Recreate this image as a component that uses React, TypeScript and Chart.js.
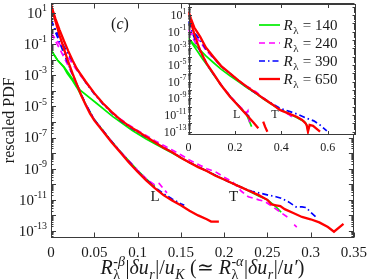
import { useEffect, useRef } from "react";
import { Chart, registerables } from "chart.js";

Chart.register(...registerables);

const SERIF = '"Liberation Serif", "Times New Roman", Times, serif';
const AXIS = "#3a3a3a";
const TEXT = "#1a1a1a";

// Series styling per Reynolds number
const reLabels = ["140", "240", "390", "650"];
const reColors = ["#00ee00", "#ff00ff", "#0000ff", "#ff0000"];
const reDashes: number[][] = [[], [6, 4], [6, 3, 1.5, 3], []];
const reWidths = [1.7, 1.7, 1.7, 2.3];

// Main axes
const mainXMin = 0;
const mainXMax = 0.35;
const mainXStep = 0.05;
const mainLogMin = -13.42;
const mainLogMax = 1.64;
const mainYLabelExps = [1, -1, -3, -5, -7, -9, -11, -13];

// Inset axes
const insetXMin = 0;
const insetXMax = 0.722;
const insetXStep = 0.2;
const insetLogMin = -13.34;
const insetLogMax = 2.32;
const insetYLabelExps = [1, -1, -3, -5, -7, -9, -11, -13];

type Pt = [number, number] | null; // [x, log10(PDF)]

// ---- Main plot: longitudinal (L) curves ----
const mainL140: Pt[] = [[0, -1.38], [0.0074, -2.02], [0.015, -2.5], [0.0187, -2.87], [0.025, -3.35], [0.03, -3.8], [0.035, -4.3], [0.04, -4.85], [0.05, -5.85], [0.06, -6.55], [0.07, -7.25], [0.08, -7.9], [0.09, -8.5], [0.1, -9.1], [0.11, -9.65], [0.12, -10.15]];
const mainL240: Pt[] = [[0, -0.3], [0.005, -0.8], [0.01, -1.3], [0.015, -1.85], [0.02, -2.4], [0.025, -3.0], [0.03, -3.6], [0.035, -4.25], [0.04, -4.85], [0.05, -5.85], [0.06, -6.55], [0.07, -7.25], [0.08, -7.9], [0.09, -8.5], [0.1, -9.1], [0.11, -9.65], [0.12, -10.05], [0.125, -9.95], [0.13, -10.3], [0.134, -10.55]];
const mainL390: Pt[] = [[0, 0.55], [0.005, -0.2], [0.01, -0.9], [0.015, -1.6], [0.02, -2.3], [0.025, -2.95], [0.03, -3.6], [0.035, -4.25], [0.04, -4.85], [0.05, -5.85], [0.06, -6.55], [0.07, -7.25], [0.08, -7.9], [0.09, -8.55], [0.1, -9.15], [0.11, -9.7], [0.12, -10.2], [0.13, -10.6], [0.14, -10.95], [0.15, -11.25], [0.154, -11.35]];
const mainL650: Pt[] = [[0, 1.5], [0.005, 0.5], [0.01, -0.45], [0.015, -1.3], [0.02, -2.15], [0.025, -2.9], [0.03, -3.6], [0.035, -4.3], [0.04, -4.9], [0.045, -5.45], [0.05, -5.9], [0.055, -6.25], [0.06, -6.6], [0.07, -7.3], [0.08, -7.95], [0.09, -8.6], [0.1, -9.2], [0.11, -9.75], [0.12, -10.25], [0.13, -10.7], [0.14, -11.05], [0.15, -11.35], [0.16, -11.7], [0.17, -12.0], [0.18, -12.25], [0.185, -12.4], [0.194, -12.4]];

// ---- Main plot: transverse (T) curves ----
const mainT140: Pt[] = [[0, -1.38], [0.0074, -2.02], [0.015, -2.45], [0.02, -2.85], [0.0337, -3.95], [0.0526, -4.8], [0.0715, -5.66], [0.094, -6.55], [0.11, -7.1], [0.12, -7.4], [0.14, -8.0], [0.16, -8.6], [0.18, -9.15], [0.2, -9.7], [0.22, -10.2], [0.24, -10.75], [0.25, -11.0], [0.26, -11.45], [0.266, -11.8]];
const mainT240: Pt[] = [[0, -0.3], [0.005, -0.65], [0.01, -1.0], [0.015, -1.4], [0.02, -1.85], [0.03, -2.7], [0.04, -3.45], [0.05, -4.15], [0.06, -4.8], [0.07, -5.35], [0.08, -5.8], [0.09, -6.2], [0.1, -6.55], [0.12, -7.2], [0.14, -7.8], [0.15, -8.1], [0.16, -8.45], [0.18, -9.0], [0.19, -9.2], [0.2, -9.55], [0.21, -9.85], [0.22, -10.45], [0.228, -10.8], [0.24, -11.0], [0.247, -11.1], [0.255, -11.4], [0.264, -11.75], [0.2755, -12.2], null, [0.281, -12.6], [0.284, -12.75]];
const mainT390: Pt[] = [[0, 0.55], [0.005, -0.05], [0.01, -0.6], [0.015, -1.15], [0.02, -1.65], [0.025, -2.1], [0.03, -2.6], [0.04, -3.45], [0.05, -4.2], [0.06, -4.85], [0.07, -5.4], [0.08, -5.9], [0.09, -6.3], [0.1, -6.65], [0.12, -7.3], [0.14, -7.95], [0.16, -8.6], [0.18, -9.15], [0.2, -9.7], [0.21, -9.95], [0.22, -10.2], [0.232, -10.45], [0.24, -10.55], [0.251, -10.7], [0.26, -10.8], [0.266, -10.9], [0.275, -11.15], [0.283, -11.45], [0.29, -11.45], [0.295, -11.5], [0.3, -11.8], [0.306, -12.1]];
const mainT650: Pt[] = [[0, 1.5], [0.005, 0.65], [0.01, -0.1], [0.015, -0.8], [0.02, -1.45], [0.025, -2.05], [0.03, -2.6], [0.04, -3.4], [0.05, -4.15], [0.06, -4.8], [0.07, -5.35], [0.08, -5.85], [0.09, -6.25], [0.1, -6.6], [0.11, -6.95], [0.12, -7.3], [0.13, -7.65], [0.14, -7.95], [0.15, -8.3], [0.16, -8.6], [0.17, -8.9], [0.18, -9.15], [0.19, -9.45], [0.2, -9.7], [0.21, -9.95], [0.22, -10.2], [0.23, -10.45], [0.24, -10.7], [0.25, -11.0], [0.255, -11.3], [0.26, -11.35], [0.265, -11.4], [0.27, -11.6], [0.28, -11.85], [0.29, -12.1], [0.3, -12.25], [0.31, -12.45], [0.32, -12.75], [0.327, -13.05], [0.338, -12.55]];

// ---- Inset: L curves ----
const insetL140: Pt[] = [[0, -1.8], [0.02, -2.6], [0.04, -3.4], [0.06, -4.25], [0.08, -5.0], [0.107, -6.1], [0.14, -7.4], [0.179, -8.75], [0.215, -9.9], [0.251, -11.0], [0.272, -12.4]];
const insetL240: Pt[] = [[0, -0.8], [0.01, -1.3], [0.02, -1.8], [0.03, -2.35], [0.04, -2.85], [0.05, -3.35], [0.065, -4.15], [0.08, -4.95], [0.107, -6.05], [0.14, -7.35], [0.179, -8.7], [0.215, -9.8], [0.25, -10.75], [0.256, -10.5], [0.26, -11.2], [0.265, -12.2]];
const insetL390: Pt[] = [[0, 0.2], [0.01, -0.6], [0.02, -1.35], [0.03, -2.05], [0.04, -2.7], [0.05, -3.3], [0.065, -4.15], [0.08, -4.95], [0.107, -6.05], [0.14, -7.4], [0.179, -8.75], [0.215, -9.85], [0.251, -10.9], [0.265, -11.3]];
const insetL650: Pt[] = [[0, 1.4], [0.01, 0.2], [0.02, -0.8], [0.03, -1.7], [0.04, -2.5], [0.05, -3.2], [0.065, -4.1], [0.08, -4.9], [0.107, -6.0], [0.14, -7.4], [0.179, -8.8], [0.215, -9.9], [0.251, -11.0], [0.28, -11.9], [0.301, -12.6], null, [0.322, -11.8], [0.33, -12.4], [0.34, -13.0]];

// ---- Inset: T curves ----
const insetT140: Pt[] = [[0, -1.8], [0.02, -2.4], [0.05, -3.2], [0.075, -3.9], [0.107, -4.7], [0.14, -5.5], [0.179, -6.3], [0.215, -7.0], [0.251, -7.7], [0.29, -8.4], [0.322, -9.05], [0.36, -9.75], [0.394, -10.35], [0.43, -10.8], [0.466, -11.3], [0.5, -11.8], [0.51, -12.2], [0.514, -12.8]];
const insetT240: Pt[] = [[0, -0.8], [0.02, -1.3], [0.05, -2.2], [0.075, -3.2], [0.107, -4.2], [0.14, -5.15], [0.179, -6.05], [0.215, -6.85], [0.251, -7.55], [0.29, -8.2], [0.322, -8.95], [0.36, -9.7], [0.394, -10.35], [0.43, -10.9], [0.46, -11.5]];
const insetT390: Pt[] = [[0, 0.2], [0.02, -0.9], [0.05, -2.0], [0.075, -3.1], [0.107, -4.1], [0.14, -5.15], [0.179, -6.05], [0.251, -7.65], [0.322, -9.0], [0.394, -10.2], [0.4375, -10.6], [0.47, -10.9], [0.51, -11.4], [0.54, -11.7], [0.567, -12.2], [0.596, -12.9]];
const insetT650: Pt[] = [[0, 1.4], [0.01, 0.6], [0.025, -0.5], [0.05, -1.6], [0.075, -2.9], [0.107, -4.0], [0.14, -5.1], [0.179, -6.0], [0.215, -6.85], [0.251, -7.6], [0.29, -8.35], [0.322, -9.0], [0.36, -9.7], [0.394, -10.4], [0.43, -10.8], [0.466, -11.2], [0.49, -11.6], [0.505, -12.0], [0.51, -12.3], [0.515, -13.0], [0.522, -12.2], [0.537, -12.3], [0.55, -12.6], [0.567, -13.0]];

const mainL = [mainL140, mainL240, mainL390, mainL650];
const mainT = [mainT140, mainT240, mainT390, mainT650];
const insetL = [insetL140, insetL240, insetL390, insetL650];
const insetT = [insetT140, insetT240, insetT390, insetT650];

// ---------- helpers ----------
type Seg = { t?: string; it?: boolean; sub?: string; sup?: string; subIt?: boolean; supIt?: boolean };

function drawRich(ctx: CanvasRenderingContext2D, segs: Seg[], x: number, y: number, size: number, align: "left" | "center" | "right" = "left") {
  const small = Math.round(size * 0.7);
  const f = (it: boolean, s: number) => `${it ? "italic " : ""}${s}px ${SERIF}`;
  const items = segs.map((s) => {
    ctx.font = f(!!s.it, size);
    const w = s.t ? ctx.measureText(s.t).width : 0;
    let w2 = 0;
    if (s.sub) { ctx.font = f(!!s.subIt, small); w2 = Math.max(w2, ctx.measureText(s.sub).width); }
    if (s.sup) { ctx.font = f(!!s.supIt, small); w2 = Math.max(w2, ctx.measureText(s.sup).width); }
    return { s, w, w2 };
  });
  const total = items.reduce((a, i) => a + i.w + i.w2 + (i.w2 ? 1 : 0), 0);
  let cx = align === "center" ? x - total / 2 : align === "right" ? x - total : x;
  ctx.textAlign = "left";
  ctx.textBaseline = "alphabetic";
  for (const { s, w, w2 } of items) {
    if (s.t) { ctx.font = f(!!s.it, size); ctx.fillText(s.t, cx, y); }
    cx += w;
    if (s.sub) { ctx.font = f(!!s.subIt, small); ctx.fillText(s.sub, cx + 0.5, y + size * 0.25); }
    if (s.sup) { ctx.font = f(!!s.supIt, small); ctx.fillText(s.sup, cx + 0.5, y - size * 0.42); }
    cx += w2 + (w2 ? 1 : 0);
  }
}

function toPoints(pts: Pt[]) {
  const out: { x: number; y: number | null }[] = [];
  let lastX = 0;
  for (const p of pts) {
    if (p === null) out.push({ x: lastX, y: null });
    else { lastX = p[0]; out.push({ x: p[0], y: Math.pow(10, p[1]) }); }
  }
  return out;
}

function makeDatasets(L: Pt[][], T: Pt[][]) {
  const ds: any[] = [];
  for (let i = reLabels.length - 1; i >= 0; i--) {
    const fams: [string, Pt[]][] = [["L", L[i]], ["T", T[i]]];
    for (const [fam, arr] of fams) {
      ds.push({
        label: `${fam} R=${reLabels[i]}`,
        data: toPoints(arr),
        borderColor: reColors[i],
        backgroundColor: reColors[i],
        borderWidth: reWidths[i],
        borderDash: reDashes[i],
        pointRadius: 0,
        fill: false,
        tension: 0,
        spanGaps: false,
      });
    }
  }
  return ds;
}

function drawLogTicks(ctx: CanvasRenderingContext2D, chart: any, logMin: number, logMax: number, major: number, minor: number, bothSides: boolean) {
  const ys = chart.scales.y;
  const ca = chart.chartArea;
  for (let e = Math.floor(logMin); e <= Math.ceil(logMax); e++) {
    for (let m = 1; m <= 9; m++) {
      const v = m * Math.pow(10, e);
      const lv = Math.log10(v);
      if (lv < logMin || lv > logMax) continue;
      const py = Math.round(ys.getPixelForValue(v)) + 0.5;
      const len = m === 1 ? major : minor;
      ctx.beginPath();
      ctx.moveTo(ca.left, py); ctx.lineTo(ca.left + len, py);
      if (bothSides) { ctx.moveTo(ca.right, py); ctx.lineTo(ca.right - len, py); }
      ctx.stroke();
    }
  }
}

function drawPowLabels(ctx: CanvasRenderingContext2D, chart: any, exps: number[], right: number, size: number, supSize: number) {
  const ys = chart.scales.y;
  for (const e of exps) {
    const py = ys.getPixelForValue(Math.pow(10, e));
    const sup = e < 0 ? `-${-e}` : `${e}`;
    ctx.font = `${supSize}px ${SERIF}`;
    const ws = ctx.measureText(sup).width;
    ctx.font = `${size}px ${SERIF}`;
    const wb = ctx.measureText("10").width;
    ctx.fillStyle = TEXT;
    ctx.textBaseline = "alphabetic";
    ctx.textAlign = "left";
    ctx.fillText("10", right - ws - wb, py + size * 0.33);
    ctx.font = `${supSize}px ${SERIF}`;
    ctx.fillText(sup, right - ws, py - size * 0.12);
  }
}

const mainDecor = {
  id: "mainDecor",
  afterDraw(chart: any) {
    const ctx: CanvasRenderingContext2D = chart.ctx;
    const ca = chart.chartArea;
    const xs = chart.scales.x;
    ctx.save();
    ctx.strokeStyle = AXIS;
    ctx.lineWidth = 1;
    const l = Math.round(ca.left) + 0.5, r = Math.round(ca.right) - 0.5;
    const t = Math.round(ca.top) + 0.5, b = Math.round(ca.bottom) - 0.5;
    ctx.strokeRect(l, t, r - l, b - t);
    drawLogTicks(ctx, chart, mainLogMin, mainLogMax, 5, 2.5, true);
    for (const tk of xs.ticks) {
      const px = Math.round(xs.getPixelForValue(tk.value)) + 0.5;
      ctx.beginPath();
      ctx.moveTo(px, b); ctx.lineTo(px, b - 5);
      ctx.moveTo(px, t); ctx.lineTo(px, t + 5);
      ctx.stroke();
    }
    drawPowLabels(ctx, chart, mainYLabelExps, ca.left - 4, 15, 10);
    ctx.fillStyle = TEXT;
    // y title
    ctx.save();
    ctx.translate(14, (ca.top + ca.bottom) / 2);
    ctx.rotate(-Math.PI / 2);
    ctx.font = `16px ${SERIF}`;
    ctx.textAlign = "center";
    ctx.textBaseline = "alphabetic";
    ctx.fillText("rescaled PDF", 0, 0);
    ctx.restore();
    // x title
    drawRich(ctx, [
      { t: "R", it: true, sub: "λ", sup: "-β", supIt: true },
      { t: "|" }, { t: "δ", it: true }, { t: "u", it: true, sub: "r", subIt: true }, { t: "|/" },
      { t: "u", it: true, sub: "K", subIt: true },
      { t: " (≃ " },
      { t: "R", it: true, sub: "λ", sup: "-α", supIt: true },
      { t: "|" }, { t: "δ", it: true }, { t: "u", it: true, sub: "r", subIt: true }, { t: "|/" },
      { t: "u′", it: true }, { t: ")" },
    ], (ca.left + ca.right) / 2, 274, 20, "center");
    // panel label
    drawRich(ctx, [{ t: "(" }, { t: "c", it: true }, { t: ")" }], ca.left + 69, 29, 16, "center");
    // family labels
    const ys = chart.scales.y;
    ctx.font = `15px ${SERIF}`;
    ctx.textAlign = "center";
    ctx.textBaseline = "middle";
    ctx.fillText("L", xs.getPixelForValue(0.1203), ys.getPixelForValue(Math.pow(10, -10.82)));
    ctx.fillText("T", xs.getPixelForValue(0.211), ys.getPixelForValue(Math.pow(10, -10.82)));
    ctx.restore();
  },
};

const insetDecor = {
  id: "insetDecor",
  beforeDatasetsDraw(chart: any) {
    const ctx: CanvasRenderingContext2D = chart.ctx;
    const ca = chart.chartArea;
    ctx.save();
    ctx.fillStyle = "#ffffff";
    ctx.fillRect(ca.left, ca.top, ca.right - ca.left, ca.bottom - ca.top);
    ctx.restore();
  },
  afterDraw(chart: any) {
    const ctx: CanvasRenderingContext2D = chart.ctx;
    const ca = chart.chartArea;
    const xs = chart.scales.x;
    const ys = chart.scales.y;
    ctx.save();
    ctx.strokeStyle = AXIS;
    ctx.lineWidth = 1;
    const l = Math.round(ca.left) + 0.5, r = Math.round(ca.right) - 0.5;
    const t = Math.round(ca.top) + 0.5, b = Math.round(ca.bottom) - 0.5;
    ctx.strokeRect(l, t, r - l, b - t);
    drawLogTicks(ctx, chart, insetLogMin, insetLogMax, 3.5, 2, true);
    for (const tk of xs.ticks) {
      const px = Math.round(xs.getPixelForValue(tk.value)) + 0.5;
      ctx.beginPath();
      ctx.moveTo(px, b); ctx.lineTo(px, b - 3.5);
      ctx.moveTo(px, t); ctx.lineTo(px, t + 3.5);
      ctx.stroke();
    }
    drawPowLabels(ctx, chart, insetYLabelExps, ca.left - 2, 12, 8);
    ctx.fillStyle = TEXT;
    ctx.font = `12px ${SERIF}`;
    ctx.textAlign = "center";
    ctx.textBaseline = "middle";
    ctx.fillText("L", xs.getPixelForValue(0.208), ys.getPixelForValue(Math.pow(10, -11.0)));
    ctx.fillText("T", xs.getPixelForValue(0.373), ys.getPixelForValue(Math.pow(10, -11.0)));
    // legend
    const lx0 = ca.left + 70.5, lx1 = ca.left + 91.5, tx = ca.left + 95;
    for (let i = 0; i < reLabels.length; i++) {
      const y = ca.top + 21 + i * 18;
      ctx.strokeStyle = reColors[i];
      ctx.lineWidth = reWidths[i];
      ctx.setLineDash(reDashes[i]);
      ctx.beginPath();
      ctx.moveTo(lx0, y); ctx.lineTo(lx1, y);
      ctx.stroke();
      ctx.setLineDash([]);
      ctx.fillStyle = TEXT;
      drawRich(ctx, [{ t: "R", it: true, sub: "λ" }, { t: ` = ${reLabels[i]}` }], tx, y + 5, 15, "left");
    }
    ctx.restore();
  },
};

export default function App() {
  const mainRef = useRef<HTMLCanvasElement>(null);
  const insetRef = useRef<HTMLCanvasElement>(null);

  useEffect(() => {
    const fmt = (v: any) => String(Math.round(Number(v) * 100) / 100);
    const main = new Chart(mainRef.current!, {
      type: "line",
      data: { datasets: makeDatasets(mainL, mainT) },
      options: {
        animation: false,
        responsive: false,
        maintainAspectRatio: false,
        events: [],
        layout: { padding: { left: 51, right: 13, top: 3, bottom: 0 } },
        plugins: { legend: { display: false }, tooltip: { enabled: false } },
        elements: { point: { radius: 0 }, line: { tension: 0 } },
        scales: {
          x: {
            type: "linear",
            min: mainXMin,
            max: mainXMax,
            grid: { display: false, drawTicks: false },
            border: { display: false },
            ticks: { stepSize: mainXStep, autoSkip: false, maxRotation: 0, padding: 7, color: TEXT, font: { family: SERIF, size: 15 }, callback: fmt },
            afterFit: (s: any) => { s.height = 42.5; },
          },
          y: {
            type: "logarithmic",
            display: false,
            min: Math.pow(10, mainLogMin),
            max: Math.pow(10, mainLogMax),
          },
        },
      } as any,
      plugins: [mainDecor],
    });

    const inset = new Chart(insetRef.current!, {
      type: "line",
      data: { datasets: makeDatasets(insetL, insetT) },
      options: {
        animation: false,
        responsive: false,
        maintainAspectRatio: false,
        events: [],
        layout: { padding: { left: 48.5, right: 18, top: 4, bottom: 0 } },
        plugins: { legend: { display: false }, tooltip: { enabled: false } },
        elements: { point: { radius: 0 }, line: { tension: 0 } },
        scales: {
          x: {
            type: "linear",
            min: insetXMin,
            max: insetXMax,
            grid: { display: false, drawTicks: false },
            border: { display: false },
            ticks: { stepSize: insetXStep, includeBounds: false, autoSkip: false, maxRotation: 0, padding: 6, color: TEXT, font: { family: SERIF, size: 12 }, callback: fmt },
            afterFit: (s: any) => { s.height = 30.5; },
          },
          y: {
            type: "logarithmic",
            display: false,
            min: Math.pow(10, insetLogMin),
            max: Math.pow(10, insetLogMax),
          },
        },
      } as any,
      plugins: [insetDecor],
    });

    return () => {
      main.destroy();
      inset.destroy();
    };
  }, []);

  return (
    <div style={{ position: "fixed", left: 0, top: 0, width: 374, height: 280, background: "#ffffff" }}>
      <canvas ref={mainRef} width={374} height={280} style={{ position: "absolute", left: 0, top: 0, width: 374, height: 280 }} />
      <canvas ref={insetRef} width={234} height={165} style={{ position: "absolute", left: 140, top: 0, width: 234, height: 165 }} />
    </div>
  );
}
